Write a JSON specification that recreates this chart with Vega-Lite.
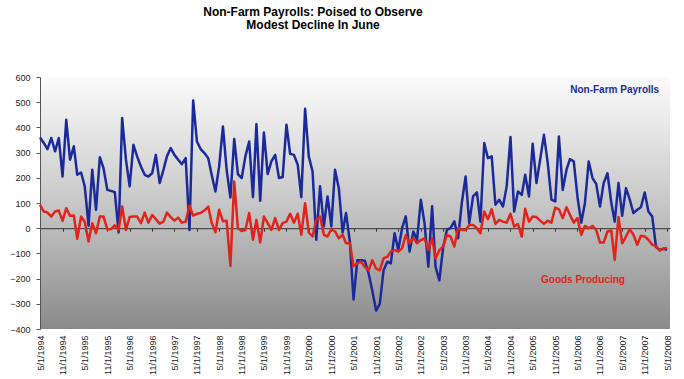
{
  "$schema": "https://vega.github.io/schema/vega-lite/v6.json",
  "width": 630,
  "height": 252,
  "autosize": {"type": "none"},
  "padding": {"left": 40, "top": 77, "right": 14, "bottom": 50},
  "background": "white",
  "title": {
    "text": ["Non-Farm Payrolls: Poised to Observe", "Modest Decline In June"],
    "font": "Liberation Sans",
    "fontSize": 12,
    "fontWeight": "bold",
    "color": "#000000",
    "anchor": "middle",
    "dx": -42,
    "offset": 41,
    "lineHeight": 13
  },
  "config": {
    "view": {
      "stroke": null,
      "fill": {"gradient": "linear", "x1": 0, "y1": 0, "x2": 0, "y2": 1,
        "stops": [{"offset": 0, "color": "#fbfbfb"}, {"offset": 0.35, "color": "#d8d8d8"}, {"offset": 0.7, "color": "#b0b0b0"}, {"offset": 1, "color": "#8a8a8a"}]}
    },
    "axis": {"labelFont": "Liberation Sans", "labelFontSize": 9, "labelColor": "#222222", "grid": false}
  },
  "data": {"values": [
    {"d":"1994/05/01","nfp":360,"gp":93},{"d":"1994/06/01","nfp":338,"gp":66},{"d":"1994/07/01","nfp":314,"gp":62},{"d":"1994/08/01","nfp":358,"gp":46},
    {"d":"1994/09/01","nfp":305,"gp":66},{"d":"1994/10/01","nfp":358,"gp":70},{"d":"1994/11/01","nfp":205,"gp":29},{"d":"1994/12/01","nfp":430,"gp":79},
    {"d":"1995/01/01","nfp":272,"gp":49},{"d":"1995/02/01","nfp":325,"gp":50},{"d":"1995/03/01","nfp":212,"gp":-42},{"d":"1995/04/01","nfp":221,"gp":46},
    {"d":"1995/05/01","nfp":166,"gp":26},{"d":"1995/06/01","nfp":10,"gp":-53},{"d":"1995/07/01","nfp":232,"gp":20},{"d":"1995/08/01","nfp":73,"gp":-20},
    {"d":"1995/09/01","nfp":282,"gp":46},{"d":"1995/10/01","nfp":238,"gp":46},{"d":"1995/11/01","nfp":152,"gp":-4},{"d":"1995/12/01","nfp":148,"gp":-4},
    {"d":"1996/01/01","nfp":143,"gp":11},{"d":"1996/02/01","nfp":-17,"gp":-7},{"d":"1996/03/01","nfp":437,"gp":86},{"d":"1996/04/01","nfp":272,"gp":-7},
    {"d":"1996/05/01","nfp":166,"gp":44},{"d":"1996/06/01","nfp":331,"gp":46},{"d":"1996/07/01","nfp":285,"gp":46},{"d":"1996/08/01","nfp":245,"gp":20},
    {"d":"1996/09/01","nfp":212,"gp":62},{"d":"1996/10/01","nfp":205,"gp":22},{"d":"1996/11/01","nfp":218,"gp":52},{"d":"1996/12/01","nfp":291,"gp":36},
    {"d":"1997/01/01","nfp":179,"gp":18},{"d":"1997/02/01","nfp":232,"gp":26},{"d":"1997/03/01","nfp":285,"gp":62},{"d":"1997/04/01","nfp":318,"gp":44},
    {"d":"1997/05/01","nfp":291,"gp":30},{"d":"1997/06/01","nfp":272,"gp":42},{"d":"1997/07/01","nfp":254,"gp":22},{"d":"1997/08/01","nfp":278,"gp":26},
    {"d":"1997/09/01","nfp":-7,"gp":90},{"d":"1997/10/01","nfp":507,"gp":50},{"d":"1997/11/01","nfp":344,"gp":57},{"d":"1997/12/01","nfp":314,"gp":60},
    {"d":"1998/01/01","nfp":298,"gp":70},{"d":"1998/02/01","nfp":278,"gp":86},{"d":"1998/03/01","nfp":212,"gp":22},{"d":"1998/04/01","nfp":146,"gp":-16},
    {"d":"1998/05/01","nfp":245,"gp":73},{"d":"1998/06/01","nfp":404,"gp":28},{"d":"1998/07/01","nfp":232,"gp":30},{"d":"1998/08/01","nfp":122,"gp":-150},
    {"d":"1998/09/01","nfp":354,"gp":185},{"d":"1998/10/01","nfp":215,"gp":0},{"d":"1998/11/01","nfp":199,"gp":-11},{"d":"1998/12/01","nfp":285,"gp":-7},
    {"d":"1999/01/01","nfp":344,"gp":60},{"d":"1999/02/01","nfp":123,"gp":-46},{"d":"1999/03/01","nfp":413,"gp":33},{"d":"1999/04/01","nfp":109,"gp":-57},
    {"d":"1999/05/01","nfp":380,"gp":46},{"d":"1999/06/01","nfp":215,"gp":20},{"d":"1999/07/01","nfp":265,"gp":-7},{"d":"1999/08/01","nfp":291,"gp":40},
    {"d":"1999/09/01","nfp":199,"gp":-7},{"d":"1999/10/01","nfp":203,"gp":20},{"d":"1999/11/01","nfp":411,"gp":26},{"d":"1999/12/01","nfp":295,"gp":57},
    {"d":"2000/01/01","nfp":291,"gp":22},{"d":"2000/02/01","nfp":252,"gp":57},{"d":"2000/03/01","nfp":123,"gp":-26},{"d":"2000/04/01","nfp":474,"gp":99},
    {"d":"2000/05/01","nfp":285,"gp":-17},{"d":"2000/06/01","nfp":225,"gp":-33},{"d":"2000/07/01","nfp":-46,"gp":33},{"d":"2000/08/01","nfp":166,"gp":46},
    {"d":"2000/09/01","nfp":7,"gp":-26},{"d":"2000/10/01","nfp":126,"gp":-33},{"d":"2000/11/01","nfp":7,"gp":-4},{"d":"2000/12/01","nfp":232,"gp":-13},
    {"d":"2001/01/01","nfp":159,"gp":-40},{"d":"2001/02/01","nfp":-17,"gp":-26},{"d":"2001/03/01","nfp":60,"gp":-60},{"d":"2001/04/01","nfp":-53,"gp":-60},
    {"d":"2001/05/01","nfp":-283,"gp":-150},{"d":"2001/06/01","nfp":-127,"gp":-140},{"d":"2001/07/01","nfp":-127,"gp":-133},{"d":"2001/08/01","nfp":-129,"gp":-153},
    {"d":"2001/09/01","nfp":-180,"gp":-167},{"d":"2001/10/01","nfp":-247,"gp":-127},{"d":"2001/11/01","nfp":-327,"gp":-160},{"d":"2001/12/01","nfp":-300,"gp":-167},
    {"d":"2002/01/01","nfp":-167,"gp":-120},{"d":"2002/02/01","nfp":-133,"gp":-113},{"d":"2002/03/01","nfp":-140,"gp":-93},{"d":"2002/04/01","nfp":-20,"gp":-87},
    {"d":"2002/05/01","nfp":-87,"gp":-93},{"d":"2002/06/01","nfp":0,"gp":-80},{"d":"2002/07/01","nfp":47,"gp":-27},{"d":"2002/08/01","nfp":-93,"gp":-60},
    {"d":"2002/09/01","nfp":-13,"gp":-40},{"d":"2002/10/01","nfp":-47,"gp":-60},{"d":"2002/11/01","nfp":113,"gp":-47},{"d":"2002/12/01","nfp":20,"gp":-40},
    {"d":"2003/01/01","nfp":-153,"gp":-87},{"d":"2003/02/01","nfp":87,"gp":-40},{"d":"2003/03/01","nfp":-153,"gp":-120},{"d":"2003/04/01","nfp":-207,"gp":-87},
    {"d":"2003/05/01","nfp":-80,"gp":-73},{"d":"2003/06/01","nfp":-7,"gp":-27},{"d":"2003/07/01","nfp":0,"gp":-33},{"d":"2003/08/01","nfp":27,"gp":-73},
    {"d":"2003/09/01","nfp":-40,"gp":0},{"d":"2003/10/01","nfp":100,"gp":-7},{"d":"2003/11/01","nfp":205,"gp":-7},{"d":"2003/12/01","nfp":20,"gp":13},
    {"d":"2004/01/01","nfp":126,"gp":13},{"d":"2004/02/01","nfp":142,"gp":0},{"d":"2004/03/01","nfp":26,"gp":-20},{"d":"2004/04/01","nfp":338,"gp":66},
    {"d":"2004/05/01","nfp":278,"gp":36},{"d":"2004/06/01","nfp":285,"gp":75},{"d":"2004/07/01","nfp":93,"gp":17},{"d":"2004/08/01","nfp":113,"gp":33},
    {"d":"2004/09/01","nfp":86,"gp":26},{"d":"2004/10/01","nfp":166,"gp":22},{"d":"2004/11/01","nfp":362,"gp":57},{"d":"2004/12/01","nfp":66,"gp":7},
    {"d":"2005/01/01","nfp":146,"gp":16},{"d":"2005/02/01","nfp":132,"gp":-33},{"d":"2005/03/01","nfp":212,"gp":77},{"d":"2005/04/01","nfp":126,"gp":26},
    {"d":"2005/05/01","nfp":335,"gp":46},{"d":"2005/06/01","nfp":179,"gp":44},{"d":"2005/07/01","nfp":272,"gp":30},{"d":"2005/08/01","nfp":371,"gp":17},
    {"d":"2005/09/01","nfp":258,"gp":30},{"d":"2005/10/01","nfp":113,"gp":22},{"d":"2005/11/01","nfp":106,"gp":82},{"d":"2005/12/01","nfp":364,"gp":75},
    {"d":"2006/01/01","nfp":152,"gp":40},{"d":"2006/02/01","nfp":232,"gp":83},{"d":"2006/03/01","nfp":274,"gp":53},{"d":"2006/04/01","nfp":265,"gp":22},
    {"d":"2006/05/01","nfp":126,"gp":40},{"d":"2006/06/01","nfp":22,"gp":-26},{"d":"2006/07/01","nfp":99,"gp":9},{"d":"2006/08/01","nfp":265,"gp":0},
    {"d":"2006/09/01","nfp":199,"gp":9},{"d":"2006/10/01","nfp":176,"gp":-7},{"d":"2006/11/01","nfp":86,"gp":-57},{"d":"2006/12/01","nfp":179,"gp":-57},
    {"d":"2007/01/01","nfp":218,"gp":-13},{"d":"2007/02/01","nfp":102,"gp":-9},{"d":"2007/03/01","nfp":26,"gp":-126},{"d":"2007/04/01","nfp":179,"gp":44},
    {"d":"2007/05/01","nfp":49,"gp":-60},{"d":"2007/06/01","nfp":159,"gp":-33},{"d":"2007/07/01","nfp":115,"gp":-4},{"d":"2007/08/01","nfp":60,"gp":-26},
    {"d":"2007/09/01","nfp":73,"gp":-66},{"d":"2007/10/01","nfp":83,"gp":-30},{"d":"2007/11/01","nfp":142,"gp":-33},{"d":"2007/12/01","nfp":66,"gp":-46},
    {"d":"2008/01/01","nfp":46,"gp":-66},{"d":"2008/02/01","nfp":-75,"gp":-70},{"d":"2008/03/01","nfp":-86,"gp":-89},{"d":"2008/04/01","nfp":-82,"gp":-80},
    {"d":"2008/05/01","nfp":-86,"gp":-80}
  ]},
  "resolve": {"axis": {"x": "independent", "y": "independent"}},
  "layer": [
    {
      "mark": {"type": "line", "color": "#1a2a9a", "strokeWidth": 2.5, "strokeJoin": "round"},
      "encoding": {
        "x": {"field": "d", "type": "temporal",
          "scale": {"domain": [{"year":1994,"month":5,"date":1},{"year":2008,"month":5,"date":25}]},
          "axis": {"orient": "bottom", "title": null, "format": "%-m/%-d/%Y", "labelAngle": 270, "labelAlign": "right", "labelBaseline": "middle",
            "labelPadding": 6, "ticks": false, "domain": false, "labelOverlap": false, "labelFlush": false,
            "values": [{"year":1994,"month":5,"date":1},{"year":1994,"month":11,"date":1},{"year":1995,"month":5,"date":1},{"year":1995,"month":11,"date":1},
              {"year":1996,"month":5,"date":1},{"year":1996,"month":11,"date":1},{"year":1997,"month":5,"date":1},{"year":1997,"month":11,"date":1},
              {"year":1998,"month":5,"date":1},{"year":1998,"month":11,"date":1},{"year":1999,"month":5,"date":1},{"year":1999,"month":11,"date":1},
              {"year":2000,"month":5,"date":1},{"year":2000,"month":11,"date":1},{"year":2001,"month":5,"date":1},{"year":2001,"month":11,"date":1},
              {"year":2002,"month":5,"date":1},{"year":2002,"month":11,"date":1},{"year":2003,"month":5,"date":1},{"year":2003,"month":11,"date":1},
              {"year":2004,"month":5,"date":1},{"year":2004,"month":11,"date":1},{"year":2005,"month":5,"date":1},{"year":2005,"month":11,"date":1},
              {"year":2006,"month":5,"date":1},{"year":2006,"month":11,"date":1},{"year":2007,"month":5,"date":1},{"year":2007,"month":11,"date":1},
              {"year":2008,"month":5,"date":1}]}},
        "y": {"field": "nfp", "type": "quantitative",
          "scale": {"domain": [-400, 600], "nice": false},
          "axis": {"orient": "left", "title": null, "values": [-400,-300,-200,-100,0,100,200,300,400,500,600], "tickSize": 4, "tickColor": "#555555",
            "domainColor": "#555555", "labelPadding": 6, "labelOverlap": false}}
      }
    },
    {
      "mark": {"type": "line", "color": "#e0231b", "strokeWidth": 2.5, "strokeJoin": "round"},
      "encoding": {
        "x": {"field": "d", "type": "temporal",
          "axis": {"orient": "bottom", "title": null, "labels": false, "offset": -100.8, "tickSize": 3, "tickColor": "#333333", "domainColor": "#333333",
            "values": [{"year":1994,"month":5,"date":1},{"year":1994,"month":11,"date":1},{"year":1995,"month":5,"date":1},{"year":1995,"month":11,"date":1},
              {"year":1996,"month":5,"date":1},{"year":1996,"month":11,"date":1},{"year":1997,"month":5,"date":1},{"year":1997,"month":11,"date":1},
              {"year":1998,"month":5,"date":1},{"year":1998,"month":11,"date":1},{"year":1999,"month":5,"date":1},{"year":1999,"month":11,"date":1},
              {"year":2000,"month":5,"date":1},{"year":2000,"month":11,"date":1},{"year":2001,"month":5,"date":1},{"year":2001,"month":11,"date":1},
              {"year":2002,"month":5,"date":1},{"year":2002,"month":11,"date":1},{"year":2003,"month":5,"date":1},{"year":2003,"month":11,"date":1},
              {"year":2004,"month":5,"date":1},{"year":2004,"month":11,"date":1},{"year":2005,"month":5,"date":1},{"year":2005,"month":11,"date":1},
              {"year":2006,"month":5,"date":1},{"year":2006,"month":11,"date":1},{"year":2007,"month":5,"date":1},{"year":2007,"month":11,"date":1},
              {"year":2008,"month":5,"date":1}]}},
        "y": {"field": "gp", "type": "quantitative", "axis": null}
      }
    },
    {
      "data": {"values": [{"d": "2007/03/01", "v": 548, "t": "Non-Farm Payrolls"}]},
      "mark": {"type": "text", "color": "#1a2a9a", "font": "Liberation Sans", "fontSize": 10, "fontWeight": "bold", "align": "center", "baseline": "middle"},
      "encoding": {
        "x": {"field": "d", "type": "temporal", "axis": null},
        "y": {"field": "v", "type": "quantitative", "axis": null},
        "text": {"field": "t"}
      }
    },
    {
      "data": {"values": [{"d": "2006/06/15", "v": -206, "t": "Goods Producing"}]},
      "mark": {"type": "text", "color": "#e0231b", "font": "Liberation Sans", "fontSize": 10, "fontWeight": "bold", "align": "center", "baseline": "middle"},
      "encoding": {
        "x": {"field": "d", "type": "temporal", "axis": null},
        "y": {"field": "v", "type": "quantitative", "axis": null},
        "text": {"field": "t"}
      }
    }
  ]
}
